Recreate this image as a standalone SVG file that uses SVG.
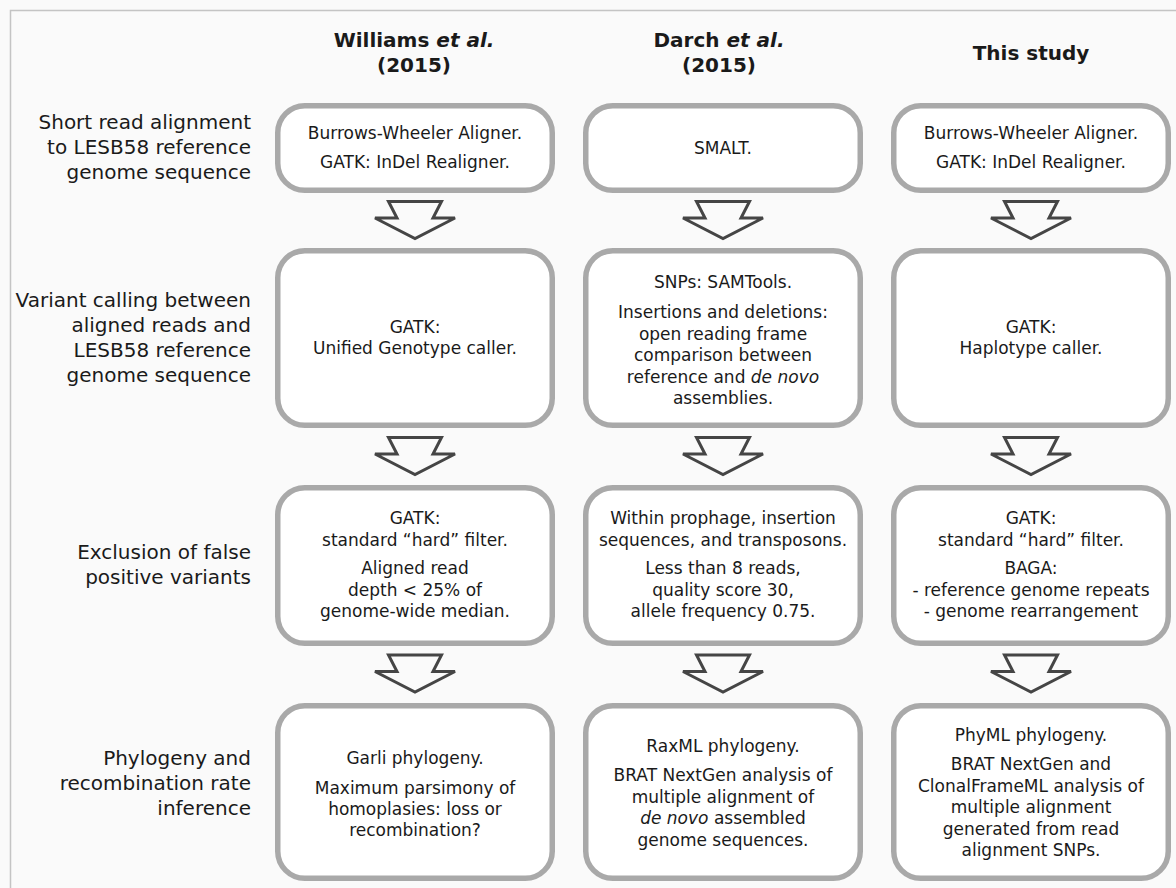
<svg xmlns="http://www.w3.org/2000/svg" width="1176" height="888" viewBox="0 0 1176 888">
<style>
text{font-family:"DejaVu Sans","Liberation Sans",sans-serif;fill:#1a1a1a}
.hd{font-size:20px;font-weight:bold;text-anchor:middle}
.lb{font-size:20px;text-anchor:end}
.bx{font-size:17px;text-anchor:middle}
.box{fill:#ffffff;stroke:#a9a9a9;stroke-width:5.5}
.arr{fill:none;stroke:#454545;stroke-width:3;stroke-linejoin:miter}
i,.it{font-style:italic}
</style>
<defs>
<path id="ar" d="M-26.5,0 L26.5,0 L18,16.5 L40,16.5 L0,37 L-40,16.5 L-18,16.5 Z"/>
</defs>
<rect x="0" y="0" width="1176" height="888" fill="#fafafa"/>
<rect x="10.5" y="10.5" width="1200" height="900" fill="none" stroke="#c4c4c4" stroke-width="1.5"/>

<g id="headers">
<text class="hd" x="414" y="47">Williams <tspan font-style="italic">et al.</tspan></text>
<text class="hd" x="414" y="72">(2015)</text>
<text class="hd" x="719" y="47">Darch <tspan font-style="italic">et al.</tspan></text>
<text class="hd" x="719" y="72">(2015)</text>
<text class="hd" x="1031" y="60">This study</text>
</g>

<g id="row-labels">
<text class="lb" x="251" y="129">Short read alignment</text>
<text class="lb" x="251" y="154">to LESB58 reference</text>
<text class="lb" x="251" y="179">genome sequence</text>
<text class="lb" x="251" y="307">Variant calling between</text>
<text class="lb" x="251" y="332">aligned reads and</text>
<text class="lb" x="251" y="357">LESB58 reference</text>
<text class="lb" x="251" y="382">genome sequence</text>
<text class="lb" x="251" y="559">Exclusion of false</text>
<text class="lb" x="251" y="584">positive variants</text>
<text class="lb" x="251" y="765">Phylogeny and</text>
<text class="lb" x="251" y="790">recombination rate</text>
<text class="lb" x="251" y="815">inference</text>
</g>

<g id="connectors">
<use href="#ar" class="arr" x="415" y="201.5"/>
<use href="#ar" class="arr" x="723" y="201.5"/>
<use href="#ar" class="arr" x="1031" y="201.5"/>
<use href="#ar" class="arr" x="415" y="437.5"/>
<use href="#ar" class="arr" x="723" y="437.5"/>
<use href="#ar" class="arr" x="1031" y="437.5"/>
<use href="#ar" class="arr" x="415" y="655"/>
<use href="#ar" class="arr" x="723" y="655"/>
<use href="#ar" class="arr" x="1031" y="655"/>
</g>

<g id="williams-align">
<rect class="box" x="277.75" y="105.75" width="274.5" height="84.5" rx="27"/>
<text class="bx" x="415" y="139">Burrows-Wheeler Aligner.</text>
<text class="bx" x="415" y="168">GATK: InDel Realigner.</text>
</g>
<g id="darch-align">
<rect class="box" x="585.75" y="105.75" width="274.5" height="84.5" rx="27"/>
<text class="bx" x="723" y="154">SMALT.</text>
</g>
<g id="this-align">
<rect class="box" x="893.75" y="105.75" width="274.5" height="84.5" rx="27"/>
<text class="bx" x="1031" y="139">Burrows-Wheeler Aligner.</text>
<text class="bx" x="1031" y="168">GATK: InDel Realigner.</text>
</g>

<g id="williams-variant">
<rect class="box" x="277.75" y="250.75" width="274.5" height="174.5" rx="27"/>
<text class="bx" x="415" y="333">GATK:</text>
<text class="bx" x="415" y="354">Unified Genotype caller.</text>
</g>
<g id="darch-variant">
<rect class="box" x="585.75" y="250.75" width="274.5" height="174.5" rx="27"/>
<text class="bx" x="723" y="288">SNPs: SAMTools.</text>
<text class="bx" x="723" y="318">Insertions and deletions:</text>
<text class="bx" x="723" y="339.5">open reading frame</text>
<text class="bx" x="723" y="361">comparison between</text>
<text class="bx" x="723" y="382.5">reference and <tspan font-style="italic">de novo</tspan></text>
<text class="bx" x="723" y="404">assemblies.</text>
</g>
<g id="this-variant">
<rect class="box" x="893.75" y="250.75" width="274.5" height="174.5" rx="27"/>
<text class="bx" x="1031" y="333">GATK:</text>
<text class="bx" x="1031" y="354">Haplotype caller.</text>
</g>

<g id="williams-filter">
<rect class="box" x="277.75" y="487.75" width="274.5" height="155.5" rx="27"/>
<text class="bx" x="415" y="524">GATK:</text>
<text class="bx" x="415" y="545.5">standard “hard” filter.</text>
<text class="bx" x="415" y="574">Aligned read</text>
<text class="bx" x="415" y="595.5">depth &lt; 25% of</text>
<text class="bx" x="415" y="617">genome-wide median.</text>
</g>
<g id="darch-filter">
<rect class="box" x="585.75" y="487.75" width="274.5" height="155.5" rx="27"/>
<text class="bx" x="723" y="524">Within prophage, insertion</text>
<text class="bx" x="723" y="545.5">sequences, and transposons.</text>
<text class="bx" x="723" y="574">Less than 8 reads,</text>
<text class="bx" x="723" y="595.5">quality score 30,</text>
<text class="bx" x="723" y="617">allele frequency 0.75.</text>
</g>
<g id="this-filter">
<rect class="box" x="893.75" y="487.75" width="274.5" height="155.5" rx="27"/>
<text class="bx" x="1031" y="524">GATK:</text>
<text class="bx" x="1031" y="545.5">standard “hard” filter.</text>
<text class="bx" x="1031" y="574">BAGA:</text>
<text class="bx" x="1031" y="595.5">- reference genome repeats</text>
<text class="bx" x="1031" y="617">- genome rearrangement</text>
</g>

<g id="williams-phylo">
<rect class="box" x="277.75" y="705.75" width="274.5" height="172.5" rx="27"/>
<text class="bx" x="415" y="764">Garli phylogeny.</text>
<text class="bx" x="415" y="794">Maximum parsimony of</text>
<text class="bx" x="415" y="815">homoplasies: loss or</text>
<text class="bx" x="415" y="836">recombination?</text>
</g>
<g id="darch-phylo">
<rect class="box" x="585.75" y="705.75" width="274.5" height="172.5" rx="27"/>
<text class="bx" x="723" y="752">RaxML phylogeny.</text>
<text class="bx" x="723" y="781">BRAT NextGen analysis of</text>
<text class="bx" x="723" y="802.5">multiple alignment of</text>
<text class="bx" x="723" y="824"><tspan font-style="italic">de novo</tspan> assembled</text>
<text class="bx" x="723" y="845.5">genome sequences.</text>
</g>
<g id="this-phylo">
<rect class="box" x="893.75" y="705.75" width="274.5" height="172.5" rx="27"/>
<text class="bx" x="1031" y="741">PhyML phylogeny.</text>
<text class="bx" x="1031" y="770">BRAT NextGen and</text>
<text class="bx" x="1031" y="791.5">ClonalFrameML analysis of</text>
<text class="bx" x="1031" y="813">multiple alignment</text>
<text class="bx" x="1031" y="834.5">generated from read</text>
<text class="bx" x="1031" y="856">alignment SNPs.</text>
</g>
</svg>
